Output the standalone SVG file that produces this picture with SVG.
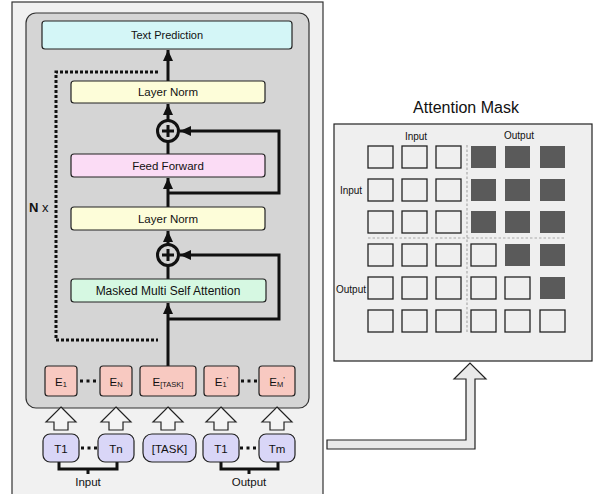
<svg xmlns="http://www.w3.org/2000/svg" width="594" height="494" viewBox="0 0 594 494">
<style>
text{font-family:"Liberation Sans",Arial,sans-serif;fill:#111;}
.blk{fill:none;stroke:#111;stroke-width:3;}
.box{stroke:#222;stroke-width:1.2;}
.lbl{font-size:11.5px;text-anchor:middle;}
.emb{fill:#f8c9c1;stroke:#222;stroke-width:1.2;}
.tok{fill:#d9d6f7;stroke:#222;stroke-width:1.2;}
.hol{fill:#f4f4f4;stroke:#222;stroke-width:1.2;}
.cell{fill:none;stroke:#222;stroke-width:1.3;}
.dark{fill:#5a5a5a;}
.dots{fill:none;stroke:#111;stroke-width:3;stroke-dasharray:3 3.5;}
.mlbl{font-size:10px;text-anchor:middle;}
</style>
<defs>
<marker id="ah" markerUnits="userSpaceOnUse" markerWidth="12" markerHeight="12" viewBox="0 0 12 12" refX="11" refY="6" orient="auto">
<path d="M0,1 L11,6 L0,11 Z" fill="#111"/>
</marker>
</defs>

<rect id="frame" x="12" y="2" width="311" height="520" fill="#f1f1f1" stroke="#333" stroke-width="1.2"/>
<rect id="stack" x="26" y="13" width="283" height="395" rx="10" fill="#d5d5d5" stroke="#333" stroke-width="1.2"/>

<g id="connectors">
<path class="blk" d="M168,81 V50" marker-end="url(#ah)"/>
<path class="blk" d="M168,120 V104" marker-end="url(#ah)"/>
<path class="blk" d="M168,154 V142"/>
<path class="blk" d="M168,207 V178" marker-end="url(#ah)"/>
<path class="blk" d="M168,193 H279 V131 H180" marker-end="url(#ah)"/>
<path class="blk" d="M168,244 V231" marker-end="url(#ah)"/>
<path class="blk" d="M168,279 V266"/>
<path class="blk" d="M168,366 V303" marker-end="url(#ah)"/>
<path class="blk" d="M168,319 H279 V255 H180" marker-end="url(#ah)"/>
<path fill="none" stroke="#111" stroke-width="3" stroke-dasharray="3 2" d="M158,72 H56 V340 H158"/>
<path class="dots" d="M80,381 H97"/>
<path class="dots" d="M241,381 H258"/>
<path class="dots" d="M81,448 H98"/>
<path class="dots" d="M240,448 H259"/>
<path class="blk" d="M59,462 V469 H117 V462 M88,469 V474"/>
<path class="blk" d="M221,462 V469 H278 V462 M249,469 V474"/>
<path class="hol" d="M61,407 L76,422 L68,422 L68,430 L54,430 L54,422 L46,422 Z"/>
<path class="hol" d="M116,407 L131,422 L123,422 L123,430 L109,430 L109,422 L101,422 Z"/>
<path class="hol" d="M168,407 L183,422 L175,422 L175,430 L161,430 L161,422 L153,422 Z"/>
<path class="hol" d="M221,407 L236,422 L228,422 L228,430 L214,430 L214,422 L206,422 Z"/>
<path class="hol" d="M277,407 L292,422 L284,422 L284,430 L270,430 L270,422 L262,422 Z"/>
<path d="M327,440 L466,440 L466,379 L454,379 L470,363 L486,379 L475,379 L475,449 L327,449 Z" fill="#e9e9e9" stroke="#222" stroke-width="1.2"/>
</g>

<g id="text-prediction">
<rect class="box" x="42" y="21" width="250" height="28" rx="3" fill="#d4f6f7"/>
<text x="167" y="39" font-size="11" text-anchor="middle">Text Prediction</text>
</g>
<g id="layer-norm-top">
<rect class="box" x="71" y="81" width="194" height="22" rx="3" fill="#fdfdd9"/>
<text class="lbl" x="168" y="96">Layer Norm</text>
</g>
<g id="add-top">
<circle cx="168" cy="131" r="10.5" fill="none" stroke="#111" stroke-width="3"/>
<path d="M162,131 H174 M168,125 V137" stroke="#111" stroke-width="3"/>
</g>
<g id="feed-forward">
<rect class="box" x="71" y="154" width="194" height="23" rx="3" fill="#fbdcf5"/>
<text class="lbl" x="168" y="169.5">Feed Forward</text>
</g>
<g id="layer-norm-bottom">
<rect class="box" x="71" y="207" width="194" height="23" rx="3" fill="#fdfdd9"/>
<text class="lbl" x="168" y="222.5">Layer Norm</text>
</g>
<g id="add-bottom">
<circle cx="168" cy="255" r="10.5" fill="none" stroke="#111" stroke-width="3"/>
<path d="M162,255 H174 M168,249 V261" stroke="#111" stroke-width="3"/>
</g>
<g id="masked-attention">
<rect class="box" x="71" y="279" width="195" height="23" rx="3" fill="#d6f8e2"/>
<text x="168" y="295" font-size="12" text-anchor="middle">Masked Multi Self Attention</text>
</g>
<g id="n-x">
<text x="29" y="212" font-size="13"><tspan font-weight="bold">N</tspan> x</text>
</g>

<g id="e1"><rect class="emb" x="45" y="366" width="32" height="30" rx="3"/><text x="61" y="386" font-size="11.5" text-anchor="middle">E<tspan font-size="7.5" dy="1">1</tspan></text></g>
<g id="en"><rect class="emb" x="100" y="366" width="32" height="30" rx="3"/><text x="116" y="386" font-size="11.5" text-anchor="middle">E<tspan font-size="7.5" dy="1">N</tspan></text></g>
<g id="etask"><rect class="emb" x="140" y="366" width="56" height="30" rx="3"/><text x="168" y="386" font-size="11.5" text-anchor="middle">E<tspan font-size="7.5" dy="1">[TASK]</tspan></text></g>
<g id="e1p"><rect class="emb" x="204" y="366" width="35" height="30" rx="3"/><text x="221.5" y="386" font-size="11.5" text-anchor="middle">E<tspan font-size="7.5" dy="1">1</tspan><tspan font-size="8" dy="-5">'</tspan></text></g>
<g id="emp"><rect class="emb" x="259" y="366" width="36" height="30" rx="3"/><text x="277" y="386" font-size="11.5" text-anchor="middle">E<tspan font-size="7.5" dy="1">M</tspan><tspan font-size="8" dy="-5">'</tspan></text></g>

<g id="t1"><rect class="tok" x="43" y="434" width="36" height="28" rx="7"/><text class="lbl" x="61" y="452.5">T1</text></g>
<g id="tn"><rect class="tok" x="98" y="434" width="36" height="28" rx="7"/><text class="lbl" x="116" y="452.5">Tn</text></g>
<g id="task"><rect class="tok" x="143" y="434" width="53" height="28" rx="9"/><text class="lbl" x="169.5" y="452.5">[TASK]</text></g>
<g id="t1-out"><rect class="tok" x="203" y="434" width="36" height="28" rx="7"/><text class="lbl" x="221" y="452.5">T1</text></g>
<g id="tm"><rect class="tok" x="259" y="434" width="36" height="28" rx="7"/><text class="lbl" x="277" y="452.5">Tm</text></g>
<text class="lbl" x="88" y="485.5">Input</text>
<text class="lbl" x="249" y="485.5">Output</text>

<g id="attention-mask">
<text x="466" y="113" font-size="16" text-anchor="middle">Attention Mask</text>
<rect x="334" y="124" width="258" height="237" fill="#efefef" stroke="#222" stroke-width="1.2"/>
<text class="mlbl" x="416" y="140">Input</text>
<text class="mlbl" x="519" y="139">Output</text>
<text class="mlbl" x="351" y="194">Input</text>
<text class="mlbl" x="351" y="293">Output</text>
<path d="M467,145 V334 M368,238 H566" stroke="#aaa" stroke-width="1.2" stroke-dasharray="2.5 2" fill="none"/>
<g>
<rect class="cell" x="368" y="146" width="25" height="22"/><rect class="cell" x="402" y="146" width="25" height="22"/><rect class="cell" x="436" y="146" width="25" height="22"/>
<rect class="dark" x="471" y="146" width="25" height="22"/><rect class="dark" x="505" y="146" width="25" height="22"/><rect class="dark" x="540" y="146" width="25" height="22"/>
<rect class="cell" x="368" y="179" width="25" height="22"/><rect class="cell" x="402" y="179" width="25" height="22"/><rect class="cell" x="436" y="179" width="25" height="22"/>
<rect class="dark" x="471" y="179" width="25" height="22"/><rect class="dark" x="505" y="179" width="25" height="22"/><rect class="dark" x="540" y="179" width="25" height="22"/>
<rect class="cell" x="368" y="211" width="25" height="22"/><rect class="cell" x="402" y="211" width="25" height="22"/><rect class="cell" x="436" y="211" width="25" height="22"/>
<rect class="dark" x="471" y="211" width="25" height="22"/><rect class="dark" x="505" y="211" width="25" height="22"/><rect class="dark" x="540" y="211" width="25" height="22"/>
<rect class="cell" x="368" y="244" width="25" height="22"/><rect class="cell" x="402" y="244" width="25" height="22"/><rect class="cell" x="436" y="244" width="25" height="22"/>
<rect class="cell" x="471" y="244" width="25" height="22"/><rect class="dark" x="505" y="244" width="25" height="22"/><rect class="dark" x="540" y="244" width="25" height="22"/>
<rect class="cell" x="368" y="277" width="25" height="22"/><rect class="cell" x="402" y="277" width="25" height="22"/><rect class="cell" x="436" y="277" width="25" height="22"/>
<rect class="cell" x="471" y="277" width="25" height="22"/><rect class="cell" x="505" y="277" width="25" height="22"/><rect class="dark" x="540" y="277" width="25" height="22"/>
<rect class="cell" x="368" y="310" width="25" height="22"/><rect class="cell" x="402" y="310" width="25" height="22"/><rect class="cell" x="436" y="310" width="25" height="22"/>
<rect class="cell" x="471" y="310" width="25" height="22"/><rect class="cell" x="505" y="310" width="25" height="22"/><rect class="cell" x="540" y="310" width="25" height="22"/>
</g>
</g>
</svg>
